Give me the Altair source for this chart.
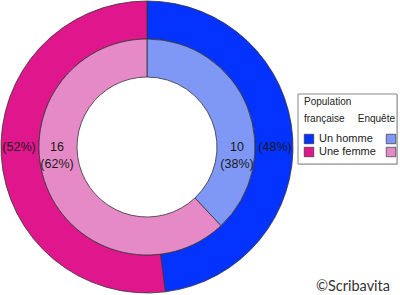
import math
import altair as alt
import pandas as pd

# ---- data ----
categories = ["Un homme", "Une femme"]
population_pct = [48, 52]        # Population française
survey_counts = [10, 16]         # Enquête
survey_pct = [38, 62]
outer_colors = ["#0433FF", "#E0168C"]
inner_colors = ["#7F97F5", "#E68AC7"]

df = pd.DataFrame({
    "idx": [0, 1],
    "label": categories,
    "pop": population_pct,
    "count": survey_counts,
    "surv": survey_pct,
    "oc": outer_colors,
    "ic": inner_colors,
})

FONT = "Liberation Sans"
CX, CY = 147, 147
R_OUT, R_MID, R_IN = 146, 108, 70

base = alt.Chart(df)

outer = base.mark_arc(radius=R_OUT, radius2=R_MID, stroke="#333", strokeWidth=0.8).encode(
    theta=alt.Theta("pop:Q", stack=True),
    order=alt.Order("idx:Q"),
    color=alt.Color("oc:N", scale=None),
    x=alt.value(CX), y=alt.value(CY),
)
inner = base.mark_arc(radius=R_MID, radius2=R_IN, stroke="#333", strokeWidth=0.8).encode(
    theta=alt.Theta("surv:Q", stack=True),
    order=alt.Order("idx:Q"),
    color=alt.Color("ic:N", scale=None),
    x=alt.value(CX), y=alt.value(CY),
)

layers = [outer, inner]
for i, ang in [(0, math.pi / 2), (1, 3 * math.pi / 2)]:
    layers.append(
        base.transform_filter(alt.datum.idx == i)
        .transform_calculate(txt="'(' + datum.pop + '%)'")
        .mark_text(theta=ang, radius=128, fontSize=12.5, font=FONT, color="#1a1a1a", baseline="middle")
        .encode(text="txt:N", x=alt.value(CX), y=alt.value(CY))
    )
    layers.append(
        base.transform_filter(alt.datum.idx == i)
        .transform_calculate(txt="[toString(datum.count), '(' + datum.surv + '%)']")
        .mark_text(theta=ang, radius=90, fontSize=12.5, font=FONT, color="#1a1a1a",
                   baseline="middle", lineHeight=17)
        .encode(text="txt:N", x=alt.value(CX), y=alt.value(CY))
    )

one = alt.Chart(alt.Data(values=[{"a": 1}]))

shadow = one.mark_rect(fill="#d0d0d0").encode(
    x=alt.value(299), x2=alt.value(398), y=alt.value(95), y2=alt.value(165))
box = one.mark_rect(fill="white", stroke="#888", strokeWidth=1).encode(
    x=alt.value(298), x2=alt.value(397), y=alt.value(94), y2=alt.value(164))
t1 = one.mark_text(text="Population", align="left", baseline="middle", fontSize=10,
                   font=FONT, color="#222").encode(x=alt.value(304), y=alt.value(102))
t2 = one.mark_text(text="française", align="left", baseline="middle", fontSize=10,
                   font=FONT, color="#222").encode(x=alt.value(304), y=alt.value(119))
t3 = one.mark_text(text="Enquête", align="right", baseline="middle", fontSize=10,
                   font=FONT, color="#222").encode(x=alt.value(395), y=alt.value(119))

yleg = alt.Y("idx:Q", scale=alt.Scale(domain=[0, 1], range=[139, 152]), axis=None)
sq1 = base.mark_square(size=90, stroke="#333", strokeWidth=0.7, opacity=1).encode(
    x=alt.value(309), y=yleg, color=alt.Color("oc:N", scale=None))
sq2 = base.mark_square(size=90, stroke="#333", strokeWidth=0.7, opacity=1).encode(
    x=alt.value(391), y=yleg, color=alt.Color("ic:N", scale=None))
lab = base.mark_text(align="left", baseline="middle", fontSize=11, font=FONT, color="#222").encode(
    x=alt.value(319), y=yleg, text="label:N")

copy = one.mark_text(text="©Scribavita", align="right", baseline="middle", fontSize=14.5,
                     font="Lato", color="#333").encode(x=alt.value(390), y=alt.value(287))

chart = alt.layer(*layers, shadow, box, t1, t2, t3, sq1, sq2, lab, copy).properties(
    width=400, height=295, padding=0, autosize="none", background="white"
).configure_view(stroke=None)

chart.save("out.html", embed_options={"renderer": "svg", "actions": False})
